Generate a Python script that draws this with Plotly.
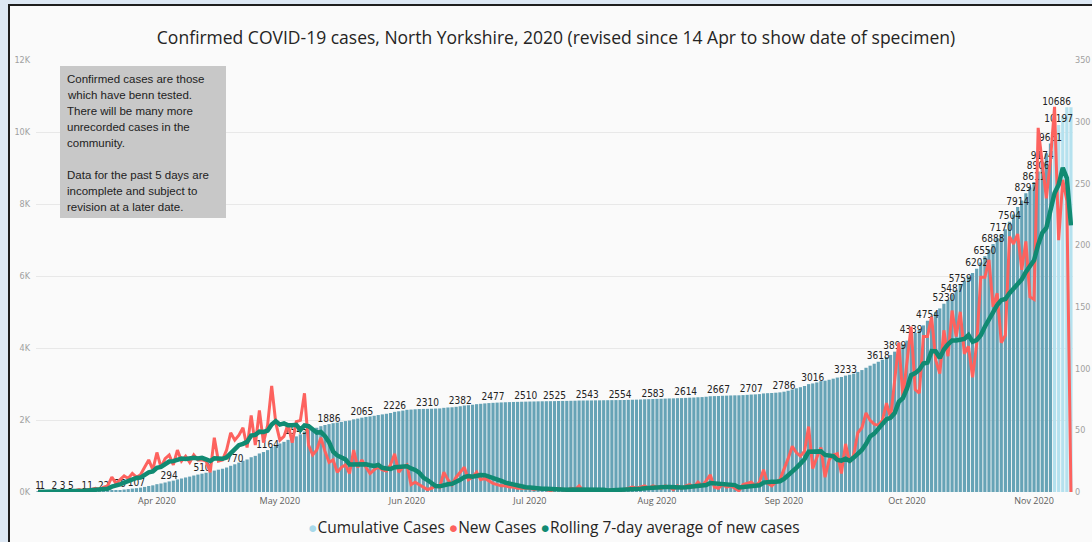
import pandas as pd
import plotly.graph_objects as go

# ---------------- data ----------------
start_date = "2020-03-03"

new_cases = [
    1, 0, 0, 0, 1, 0, 1, 1, 1, 1,
    2, 1, 2, 2, 3, 2, 4, 5, 12, 7,
    10, 13, 11, 15, 12, 14, 20, 26, 18, 32,
    20, 27, 30, 22, 34, 25, 29, 24, 30, 26,
    26, 25, 16, 44, 25, 26, 34, 48, 42, 46,
    52, 36, 62, 38, 66, 40, 54, 86, 56, 42,
    45, 55, 40, 57, 58, 80, 38, 30, 34, 44,
    33, 24, 26, 16, 20, 22, 15, 34, 20, 26,
    20, 15, 18, 20, 18, 17, 22, 31, 16, 20,
    22, 6, 8, 6, 4, 2, 3, 5, 4, 16,
    10, 6, 12, 16, 20, 10, 12, 16, 10, 11,
    9, 7, 6, 5, 5, 4, 4, 3, 3, 3,
    3, 2, 3, 2, 2, 1, 2, 3, 2, 1,
    3, 2, 5, 1, 1, 1, 2, 1, 2, 1,
    2, 1, 1, 2, 3, 4, 3, 4, 5, 3,
    5, 4, 3, 5, 4, 2, 5, 3, 5, 6,
    4, 8, 5, 9, 14, 4, 3, 6, 4, 5,
    3, 1, 6, 7, 8, 5, 8, 18, 7, 5,
    8, 10, 18, 27, 37, 32, 29, 33, 53, 19,
    28, 36, 12, 26, 30, 31, 15, 39, 24, 30,
    48, 52, 64, 58, 55, 54, 58, 72, 60, 91,
    121, 77, 108, 134, 83, 80, 126, 126, 142, 107,
    96, 131, 110, 147, 126, 146, 112, 118, 93, 120,
    174, 174, 188, 150, 161, 121, 127, 207, 201, 209,
    180, 203, 158, 156, 295, 268, 238, 269, 312, 204,
    253, 236, 0,
]

cumulative_cases = [
    1, 1, 1, 1, 2, 2, 3, 4, 5, 6,
    8, 9, 11, 13, 16, 18, 22, 27, 39, 46,
    56, 69, 80, 95, 107, 121, 141, 167, 185, 217,
    237, 264, 294, 316, 350, 375, 404, 428, 458, 484,
    510, 535, 551, 595, 620, 646, 680, 728, 770, 816,
    868, 904, 966, 1004, 1070, 1110, 1164, 1250, 1306, 1348,
    1393, 1448, 1488, 1545, 1603, 1683, 1721, 1751, 1785, 1829,
    1862, 1886, 1912, 1928, 1948, 1970, 1985, 2019, 2039, 2065,
    2085, 2100, 2118, 2138, 2156, 2173, 2195, 2226, 2242, 2262,
    2284, 2290, 2298, 2304, 2308, 2310, 2313, 2318, 2322, 2338,
    2348, 2354, 2366, 2382, 2402, 2412, 2424, 2440, 2450, 2461,
    2470, 2477, 2483, 2488, 2493, 2497, 2501, 2504, 2507, 2510,
    2513, 2515, 2518, 2520, 2522, 2523, 2525, 2528, 2530, 2531,
    2534, 2536, 2541, 2542, 2543, 2544, 2546, 2547, 2549, 2550,
    2552, 2553, 2554, 2556, 2559, 2563, 2566, 2570, 2575, 2578,
    2583, 2587, 2590, 2595, 2599, 2601, 2606, 2609, 2614, 2620,
    2624, 2632, 2637, 2646, 2660, 2664, 2667, 2673, 2677, 2682,
    2685, 2686, 2692, 2699, 2707, 2712, 2720, 2738, 2745, 2750,
    2758, 2768, 2786, 2813, 2850, 2882, 2911, 2944, 2997, 3016,
    3044, 3080, 3092, 3118, 3148, 3179, 3194, 3233, 3257, 3287,
    3335, 3387, 3451, 3509, 3564, 3618, 3676, 3748, 3808, 3899,
    4020, 4097, 4205, 4339, 4422, 4502, 4628, 4754, 4896, 5003,
    5099, 5230, 5340, 5487, 5613, 5759, 5871, 5989, 6082, 6202,
    6376, 6550, 6738, 6888, 7049, 7170, 7297, 7504, 7705, 7914,
    8094, 8297, 8455, 8611, 8906, 9174, 9412, 9681, 9993, 10197,
    10450, 10686, 10686,
]

rolling_avg = [
    0.1, 0.1, 0.1, 0.1, 0.3, 0.3, 0.4, 0.4, 0.6, 0.7,
    1.0, 1.0, 1.3, 1.4, 1.7, 1.9, 2.3, 2.7, 4.3, 5.0,
    6.1, 7.6, 8.9, 10.4, 11.4, 11.7, 13.6, 15.9, 16.6, 19.6,
    20.3, 22.4, 24.7, 25.0, 26.1, 27.1, 26.7, 27.3, 27.7, 27.1,
    27.7, 26.4, 25.1, 27.3, 27.4, 26.9, 28.0, 31.1, 33.6, 37.9,
    39.0, 40.6, 45.7, 46.3, 48.9, 48.6, 49.7, 54.6, 57.4, 54.6,
    55.6, 54.0, 54.0, 54.4, 50.4, 53.9, 53.3, 51.1, 48.1, 48.7,
    45.3, 40.4, 32.7, 29.6, 28.1, 26.4, 22.3, 22.4, 21.9, 21.9,
    22.4, 21.7, 21.1, 21.9, 19.6, 19.1, 18.6, 20.1, 20.3, 20.6,
    20.9, 19.1, 17.9, 15.6, 11.7, 9.7, 7.3, 4.9, 4.6, 5.7,
    6.3, 6.6, 8.0, 9.9, 12.0, 12.9, 12.3, 13.1, 13.7, 13.6,
    12.6, 10.7, 10.1, 9.1, 7.6, 6.7, 5.7, 4.9, 4.3, 3.9,
    3.6, 3.1, 3.0, 2.7, 2.6, 2.3, 2.1, 2.1, 2.1, 1.9,
    2.0, 2.0, 2.6, 2.4, 2.1, 2.0, 2.1, 1.9, 1.9, 1.3,
    1.4, 1.4, 1.4, 1.4, 1.7, 2.0, 2.3, 2.6, 3.1, 3.4,
    3.9, 4.0, 3.9, 4.1, 4.1, 3.7, 4.0, 3.7, 3.9, 4.3,
    4.1, 4.7, 5.1, 5.7, 7.3, 7.1, 6.7, 7.0, 6.4, 6.4,
    5.6, 3.7, 4.0, 4.6, 4.9, 5.0, 5.4, 7.6, 8.4, 8.3,
    8.4, 8.7, 10.6, 13.3, 16.0, 19.6, 23.0, 26.6, 32.7, 32.9,
    33.0, 32.9, 30.0, 29.6, 29.1, 26.0, 25.4, 27.0, 25.3, 27.9,
    31.0, 34.1, 38.9, 45.0, 47.3, 51.6, 55.6, 59.0, 60.1, 64.0,
    73.0, 76.1, 83.9, 94.7, 96.3, 99.1, 104.1, 104.9, 114.1, 114.0,
    108.6, 115.4, 119.7, 122.7, 122.7, 123.3, 124.0, 127.1, 121.7, 123.1,
    127.0, 133.9, 139.9, 145.3, 151.4, 155.4, 156.4, 161.1, 165.0, 168.0,
    172.3, 178.3, 183.6, 187.7, 200.3, 209.9, 214.0, 226.7, 242.3, 248.9,
    262.7, 254.3, 216.0,
]

# bars that carry a data label (day index)
label_days = [0, 1, 4, 6, 8, 12, 16, 20, 24, 32, 40, 48, 56, 63, 71, 79, 87,
              95, 103, 111, 119, 126, 134, 142, 150, 158, 166, 174, 182, 189,
              197, 205, 209, 213, 217, 221, 223, 225, 229, 231, 233, 235, 237,
              239, 241, 243, 244, 245, 247, 249, 252]

incomplete_days = 5

month_ticks = ["2020-04-01", "2020-05-01", "2020-06-01", "2020-07-01",
               "2020-08-01", "2020-09-01", "2020-10-01", "2020-11-01"]
month_labels = ["Apr 2020", "May 2020", "Jun 2020", "Jul 2020",
                "Aug 2020", "Sep 2020", "Oct 2020", "Nov 2020"]

left_ticks = [0, 2000, 4000, 6000, 8000, 10000, 12000]
left_labels = ["0K", "2K", "4K", "6K", "8K", "10K", "12K"]
right_ticks = [0, 50, 100, 150, 200, 250, 300, 350]

note_lines = [
    "Confirmed cases are those",
    "which have benn tested.",
    "There will be many more",
    "unrecorded cases in the",
    "community.",
    "",
    "Data for the past 5 days are",
    "incomplete and subject to",
    "revision at a later date.",
]

title_text = ("Confirmed COVID-19 cases, North Yorkshire, 2020 "
              "(revised since 14 Apr to show date of specimen)")

# ---------------- styling ----------------
DARK_BAR = "#66A3B6"
LIGHT_BAR = "#B5E1EE"
LEGEND_CUM = "#A8D9EA"
RED = "#FD625E"
GREEN = "#118A72"
BG = "#FAFAFA"

W, H = 1092, 542
L, R, T, B = 36, 19, 60, 50
PW, PH = W - L - R, H - T - B


def px_x(px):
    return (px - L) / PW


def px_y(py):
    return (H - B - py) / PH


dates = pd.date_range(start_date, periods=len(cumulative_cases), freq="D")
n = len(dates)
bar_colors = [DARK_BAR] * (n - incomplete_days) + [LIGHT_BAR] * incomplete_days

lab_x = [dates[i] for i in label_days]
lab_y = [cumulative_cases[i] for i in label_days]
lab_t = [str(cumulative_cases[i]) for i in label_days]
lab_pos = ["top center"] * len(label_days)
lab_pos[-1] = "top left"

fig = go.Figure()
fig.add_trace(go.Bar(
    x=dates, y=cumulative_cases, marker=dict(color=bar_colors, line=dict(width=0)),
    name="Cumulative Cases", showlegend=False, hoverinfo="skip"))
fig.add_trace(go.Scatter(
    x=lab_x, y=lab_y, mode="text", text=lab_t, textposition=lab_pos,
    textfont=dict(family="DejaVu Sans Condensed, DejaVu Sans", size=10, color="#222222"),
    showlegend=False, hoverinfo="skip", cliponaxis=False))
fig.add_trace(go.Scatter(
    x=dates, y=new_cases, mode="lines", name="New Cases", yaxis="y2",
    line=dict(color=RED, width=3), showlegend=False, hoverinfo="skip"))
fig.add_trace(go.Scatter(
    x=dates, y=rolling_avg, mode="lines", name="Rolling 7-day average of new cases",
    yaxis="y2", line=dict(color=GREEN, width=4.5), showlegend=False, hoverinfo="skip"))

x_start = dates[0] - pd.Timedelta(hours=12)
x_end = dates[-1] + pd.Timedelta(hours=12)

fig.update_layout(
    width=W, height=H,
    margin=dict(l=L, r=R, t=T, b=B, pad=0, autoexpand=False),
    paper_bgcolor=BG, plot_bgcolor=BG,
    bargap=0.22,
    showlegend=False,
    title=dict(text=title_text, x=556 / W, xanchor="center", y=1 - 38 / H,
               yanchor="middle", yref="container",
               font=dict(family="Open Sans, Noto Sans, sans-serif", size=17.5, color="#252423")),
    xaxis=dict(type="date", range=[x_start, x_end], tickvals=month_ticks, automargin=False,
               ticktext=month_labels, showgrid=False, zeroline=False, showline=False,
               ticks="", ticklabelstandoff=2,
               tickfont=dict(family="Open Sans, sans-serif", size=9, color="#605E5C")),
    yaxis=dict(range=[0, 12000], tickvals=left_ticks, ticktext=left_labels, automargin=False,
               showgrid=True, gridcolor="#E8E8E8", gridwidth=1, zeroline=False,
               showline=False, ticks="", ticklabelstandoff=5,
               tickfont=dict(family="DejaVu Sans Condensed, sans-serif", size=9, color="#A0A0A0")),
    yaxis2=dict(range=[0, 350], tickvals=right_ticks, overlaying="y", side="right",
                automargin=False, showgrid=False, zeroline=False, showline=False, ticks="",
                ticklabelstandoff=1,
                tickfont=dict(family="DejaVu Sans Condensed, sans-serif", size=9, color="#A0A0A0")),
)

# frame of the surrounding report page
fig.add_shape(type="rect", xref="paper", yref="paper", x0=px_x(0), x1=px_x(8),
              y0=px_y(H), y1=px_y(0), fillcolor="#DDE8F4", line=dict(width=0), layer="above")
fig.add_shape(type="rect", xref="paper", yref="paper", x0=px_x(0), x1=px_x(W),
              y0=px_y(4), y1=px_y(0), fillcolor="#DDE8F4", line=dict(width=0), layer="above")
fig.add_shape(type="line", xref="paper", yref="paper", x0=px_x(9), x1=px_x(9),
              y0=px_y(H), y1=px_y(5), line=dict(color="#1E1E1E", width=2), layer="above")
fig.add_shape(type="line", xref="paper", yref="paper", x0=px_x(8), x1=px_x(W),
              y0=px_y(5), y1=px_y(5), line=dict(color="#1E1E1E", width=2), layer="above")

# grey note box
fig.add_shape(type="rect", xref="paper", yref="paper", x0=px_x(60), x1=px_x(226),
              y0=px_y(218), y1=px_y(66), fillcolor="#C8C8C8", line=dict(width=0), layer="above")
for k, line in enumerate(note_lines):
    if not line:
        continue
    fig.add_annotation(xref="paper", yref="paper", x=px_x(65), y=px_y(79 + 16 * k),
                       xanchor="left", yanchor="middle", showarrow=False, text=line,
                       font=dict(family="Liberation Sans, Arial, sans-serif", size=11.5, color="#222222"))

# legend (Power BI style dots)
legend_text = (f"<span style='color:{LEGEND_CUM}'>●</span>Cumulative Cases "
               f"<span style='color:{RED}'>●</span>New Cases "
               f"<span style='color:{GREEN}'>●</span>Rolling 7-day average of new cases")
fig.add_annotation(xref="paper", yref="paper", x=px_x(554), y=px_y(527),
                   xanchor="center", yanchor="middle", showarrow=False, text=legend_text,
                   font=dict(family="Open Sans, Noto Sans, sans-serif", size=15.5, color="#252423"))

fig.write_html(
    "out.html",
    config={"displayModeBar": False},
    post_script="document.body.style.margin='0px';document.body.style.overflow='hidden';",
)
